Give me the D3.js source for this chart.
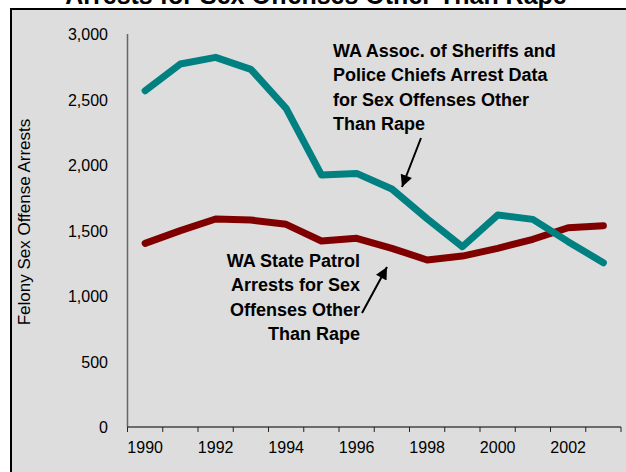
<!DOCTYPE html>
<html>
<head>
<meta charset="utf-8">
<script src="https://cdn.jsdelivr.net/npm/d3@7"></script>
<style>
  body { margin: 0; background: #fff; }
  svg { display: block; font-family: Arial, "Liberation Sans", sans-serif; }
</style>
</head>
<body>
<svg id="chart" viewBox="0 0 626 472" width="626" height="472"></svg>
<script>
// data
const years = [1990, 1991, 1992, 1993, 1994, 1995, 1996, 1997, 1998, 1999, 2000, 2001, 2002, 2003]
const waspc = [2567, 2771, 2822, 2730, 2433, 1924, 1936, 1817, 1590, 1376, 1618, 1585, 1415, 1254]
const wsp = [1402, 1499, 1588, 1580, 1547, 1420, 1440, 1364, 1275, 1305, 1364, 1433, 1521, 1537]
const yTicks = [0, 500, 1000, 1500, 2000, 2500, 3000]
const xLabels = [1990, 1992, 1994, 1996, 1998, 2000, 2002]

const svg = d3.select("#chart")

// chart frame (runs past the right / bottom edge)
svg.append("rect")
    .attr("x", 11).attr("y", 9)
    .attr("width", 700).attr("height", 500)
    .attr("fill", "#dddddd")
    .attr("stroke", "#000").attr("stroke-width", 2)

svg.append("text")
    .attr("x", 316).attr("y", 4)
    .attr("text-anchor", "middle")
    .attr("font-size", 25).attr("font-weight", "bold")
    .text("Arrests for Sex Offenses Other Than Rape")

const plotL = 127.5, plotR = 621, plotT = 34, plotB = 427

const x = d3.scaleBand().domain(years).range([plotL, plotR])
const y = d3.scaleLinear().domain([0, 3000]).range([plotB, plotT])

// y axis
svg.append("line")
    .attr("x1", plotL).attr("x2", plotL)
    .attr("y1", plotT).attr("y2", plotB)
    .attr("stroke", "#666").attr("stroke-width", 1.5)

svg.append("g").selectAll("text")
    .data(yTicks)
    .enter()
    .append("text")
    .attr("x", 108)
    .attr("y", d => y(d) + 6)
    .attr("text-anchor", "end")
    .attr("font-size", 16)
    .text(d => d3.format(",")(d))

svg.append("text")
    .attr("transform", "translate(30,222) rotate(-90)")
    .attr("text-anchor", "middle")
    .attr("font-size", 17)
    .text("Felony Sex Offense Arrests")

// x axis, ticks sit between the categories
const xg = svg.append("g")
xg.append("line")
    .attr("x1", plotL).attr("x2", plotR)
    .attr("y1", plotB).attr("y2", plotB)
    .attr("stroke", "#444").attr("stroke-width", 1.5)
xg.selectAll(".tick")
    .data(years.concat([null]))
    .enter()
    .append("line")
    .attr("x1", (d, i) => plotL + i * x.step())
    .attr("x2", (d, i) => plotL + i * x.step())
    .attr("y1", plotB).attr("y2", plotB + 5)
    .attr("stroke", "#222").attr("stroke-width", 1)
xg.selectAll("text")
    .data(xLabels)
    .enter()
    .append("text")
    .attr("x", d => x(d) + x.bandwidth() / 2)
    .attr("y", plotB + 26)
    .attr("text-anchor", "middle")
    .attr("font-size", 16)
    .text(d => d)

// series lines
const line = d3.line()
    .x((d, i) => x(years[i]) + x.bandwidth() / 2)
    .y(d => y(d))

svg.append("path")
    .datum(wsp)
    .attr("d", line)
    .attr("fill", "none")
    .attr("stroke", "#800000")
    .attr("stroke-width", 7)
    .attr("stroke-linejoin", "round")
    .attr("stroke-linecap", "round")

svg.append("path")
    .datum(waspc)
    .attr("d", line)
    .attr("fill", "none")
    .attr("stroke", "#008080")
    .attr("stroke-width", 7)
    .attr("stroke-linejoin", "round")
    .attr("stroke-linecap", "round")

// annotations
svg.append("defs").append("marker")
    .attr("id", "arrow")
    .attr("viewBox", "0 0 10 10")
    .attr("refX", 10).attr("refY", 5)
    .attr("markerWidth", 14).attr("markerHeight", 12)
    .attr("markerUnits", "userSpaceOnUse")
    .attr("orient", "auto")
    .append("path")
    .attr("d", "M0,0 L10,5 L0,10 Z")
    .attr("fill", "#000")

function note(lines, xPos, yPos, anchor) {
    const t = svg.append("text")
        .attr("font-size", 18).attr("font-weight", "bold")
        .attr("text-anchor", anchor)
    lines.forEach((s, i) => {
        t.append("tspan").attr("x", xPos).attr("y", yPos + i * 24.3).text(s)
    })
}

note(["WA Assoc. of Sheriffs and", "Police Chiefs Arrest Data", "for Sex Offenses Other", "Than Rape"], 333, 57, "start")
note(["WA State Patrol", "Arrests for Sex", "Offenses Other", "Than Rape"], 360, 267, "end")

svg.append("line")
    .attr("x1", 421).attr("y1", 138)
    .attr("x2", 402).attr("y2", 187)
    .attr("stroke", "#000").attr("stroke-width", 2)
    .attr("marker-end", "url(#arrow)")

svg.append("line")
    .attr("x1", 362).attr("y1", 313)
    .attr("x2", 387).attr("y2", 267)
    .attr("stroke", "#000").attr("stroke-width", 2)
    .attr("marker-end", "url(#arrow)")
</script>
</body>
</html>
